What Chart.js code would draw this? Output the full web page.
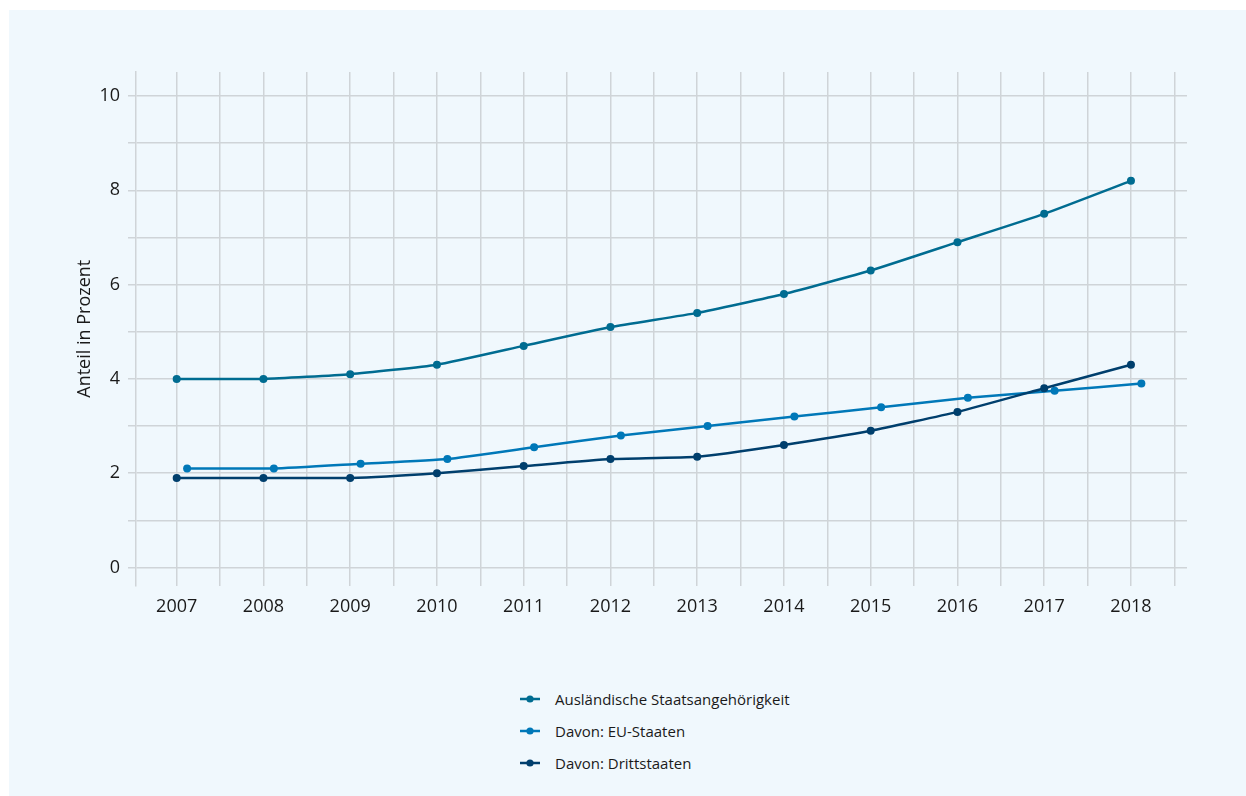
<!DOCTYPE html>
<html>
<head>
<meta charset="utf-8">
<script src="https://cdn.jsdelivr.net/npm/chart.js@4.4.1/dist/chart.umd.min.js"></script>
<style>
  html, body { margin: 0; padding: 0; background: #ffffff; width: 1246px; height: 796px; overflow: hidden; font-family: "Open Sans", sans-serif; }
  #panel { position: absolute; left: 9px; top: 10px; width: 1237px; height: 786px; background: #f0f8fd; }
  #wrap { position: absolute; left: 0; top: 0; width: 1246px; height: 631px; }
  #legend { position: absolute; left: 519px; top: 683px; }
  .item { display: flex; align-items: center; height: 32px; font-size: 15px; color: #1a1a1a; }
  .item svg { margin-right: 14px; flex: none; }
</style>
</head>
<body>
<div id="panel"></div>
<div id="wrap"><canvas id="c" width="1246" height="631"></canvas></div>
<div id="legend"></div>
<script>
// ---- data ----
const years = [2007, 2008, 2009, 2010, 2011, 2012, 2013, 2014, 2015, 2016, 2017, 2018];
const auslaendisch = [4.0, 4.0, 4.1, 4.3, 4.7, 5.1, 5.4, 5.8, 6.3, 6.9, 7.5, 8.2];
const euStaaten = [2.1, 2.1, 2.2, 2.3, 2.55, 2.8, 3.0, 3.2, 3.4, 3.6, 3.75, 3.9];
const drittstaaten = [1.9, 1.9, 1.9, 2.0, 2.15, 2.3, 2.35, 2.6, 2.9, 3.3, 3.8, 4.3];
const seriesNames = ["Ausländische Staatsangehörigkeit", "Davon: EU-Staaten", "Davon: Drittstaaten"];
const yTickValues = [0, 1, 2, 3, 4, 5, 6, 7, 8, 9, 10];
const yAxisTitle = "Anteil in Prozent";

// ---- style ----
const colors = ["#006c91", "#0078b8", "#003f6d"];
const gridColor = "#cfd4d8";
const textColor = "#1a1a1a";
const FONT = "'Open Sans', sans-serif";

const xMin = 2006.531, xMax = 2018.646, euShift = 0.12;

function pts(vals) { return years.map((y, i) => ({ x: y, y: vals[i] })); }

const datasets = [auslaendisch, euStaaten, drittstaaten].map((vals, i) => ({
  label: seriesNames[i],
  data: pts(vals),
  borderColor: colors[i],
  backgroundColor: colors[i],
  pointBackgroundColor: colors[i],
  pointBorderWidth: 0,
  pointRadius: 4,
  borderWidth: 2.5,
  tension: 0.15,
  xAxisID: i === 1 ? 'xEU' : 'x',
  order: i === 2 ? 0 : 1
}));

const chart = new Chart(document.getElementById('c'), {
  type: 'line',
  data: { datasets },
  options: {
    responsive: false,
    animation: false,
    layout: { padding: { left: 0, right: 59, top: 72, bottom: 0 } },
    plugins: { legend: { display: false }, tooltip: { enabled: false } },
    scales: {
      x: {
        type: 'linear', min: xMin, max: xMax,
        afterBuildTicks: ax => { ax.ticks = years.flatMap(y => [y, y + 0.5]).map(v => ({ value: v })); },
        afterFit: s => { s.height = 45.5; },
        grid: { color: gridColor, lineWidth: 1.5, drawTicks: false },
        border: { display: false },
        ticks: {
          autoSkip: false, maxRotation: 0, padding: 11,
          color: textColor, font: { family: FONT, size: 18 },
          callback: v => Number.isInteger(v) ? String(v) : ''
        }
      },
      xEU: { type: 'linear', display: false, min: xMin - euShift, max: xMax - euShift },
      y: {
        min: -0.382, max: 10.509,
        afterBuildTicks: ax => { ax.ticks = yTickValues.map(v => ({ value: v })); },
        afterFit: s => { s.width = 136; },
        grid: { color: gridColor, lineWidth: 1.5, tickLength: 8 },
        border: { display: true, color: gridColor, width: 1.5 },
        ticks: {
          padding: 8, color: textColor, font: { family: FONT, size: 18 },
          callback: v => (v % 2 === 0) ? String(v) : ''
        },
        title: {
          display: true, text: yAxisTitle, color: textColor,
          font: { family: FONT, size: 18 }, padding: { top: 74, bottom: 0 }
        }
      }
    }
  }
});

// HTML legend built from the chart datasets
const leg = document.getElementById('legend');
chart.data.datasets.forEach(ds => {
  const d = document.createElement('div');
  d.className = 'item';
  d.innerHTML = '<svg width="22" height="10"><line x1="1" y1="5" x2="21" y2="5" stroke="' + ds.borderColor +
    '" stroke-width="2.5"/><circle cx="11" cy="5" r="3.6" fill="' + ds.borderColor + '"/></svg><span></span>';
  d.querySelector('span').textContent = ds.label;
  leg.appendChild(d);
});
</script>
</body>
</html>
